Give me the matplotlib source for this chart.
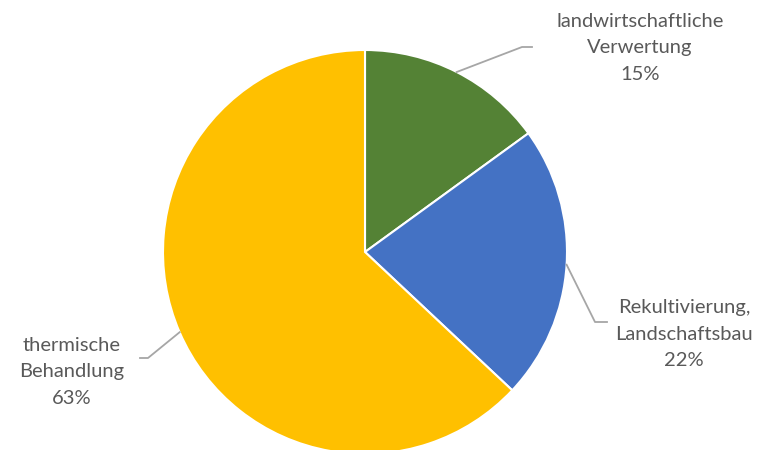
import numpy as np
import matplotlib
matplotlib.use("Agg")
import matplotlib.pyplot as plt

labels = ["landwirtschaftliche\nVerwertung", "Rekultivierung,\nLandschaftsbau", "thermische\nBehandlung"]
shares = [15, 22, 63]
colors = ["#548235", "#4472C4", "#FFC000"]

W, H = 763, 450
cx, cy, r = 365, H - 252, 202

fig = plt.figure(figsize=(W / 100, H / 100), dpi=100)
ax = fig.add_axes([0, 0, 1, 1])

wedges, _ = ax.pie(shares, colors=colors, startangle=90, counterclock=False,
                   center=(cx, cy), radius=r, frame=True,
                   wedgeprops=dict(edgecolor="white", linewidth=1.5))
ax.set_xlim(0, W)
ax.set_ylim(0, H)
ax.axis("off")

# elbow of leader line, end of leader line, text centre (pixels from top-left)
elbows = [(522, 47), (595, 322), (148, 358)]
ends = [(532, 47), (607, 322), (140, 358)]
text_pos = [(640, 48), (684, 334), (72, 372)]

for w, lab, s, el, en, tp in zip(wedges, labels, shares, elbows, ends, text_pos):
    ang = np.deg2rad((w.theta1 + w.theta2) / 2)
    sx, sy = cx + r * np.cos(ang), cy + r * np.sin(ang)
    ax.plot([sx, el[0], en[0]], [sy, H - el[1], H - en[1]], color="#A6A6A6", lw=1.3)
    ax.text(tp[0], H - tp[1], f"{lab}\n{s}%", ha="center", va="center",
            fontsize=14.5, color="#595959", family="Lato", linespacing=1.68)

fig.savefig("out.png", dpi=100)
